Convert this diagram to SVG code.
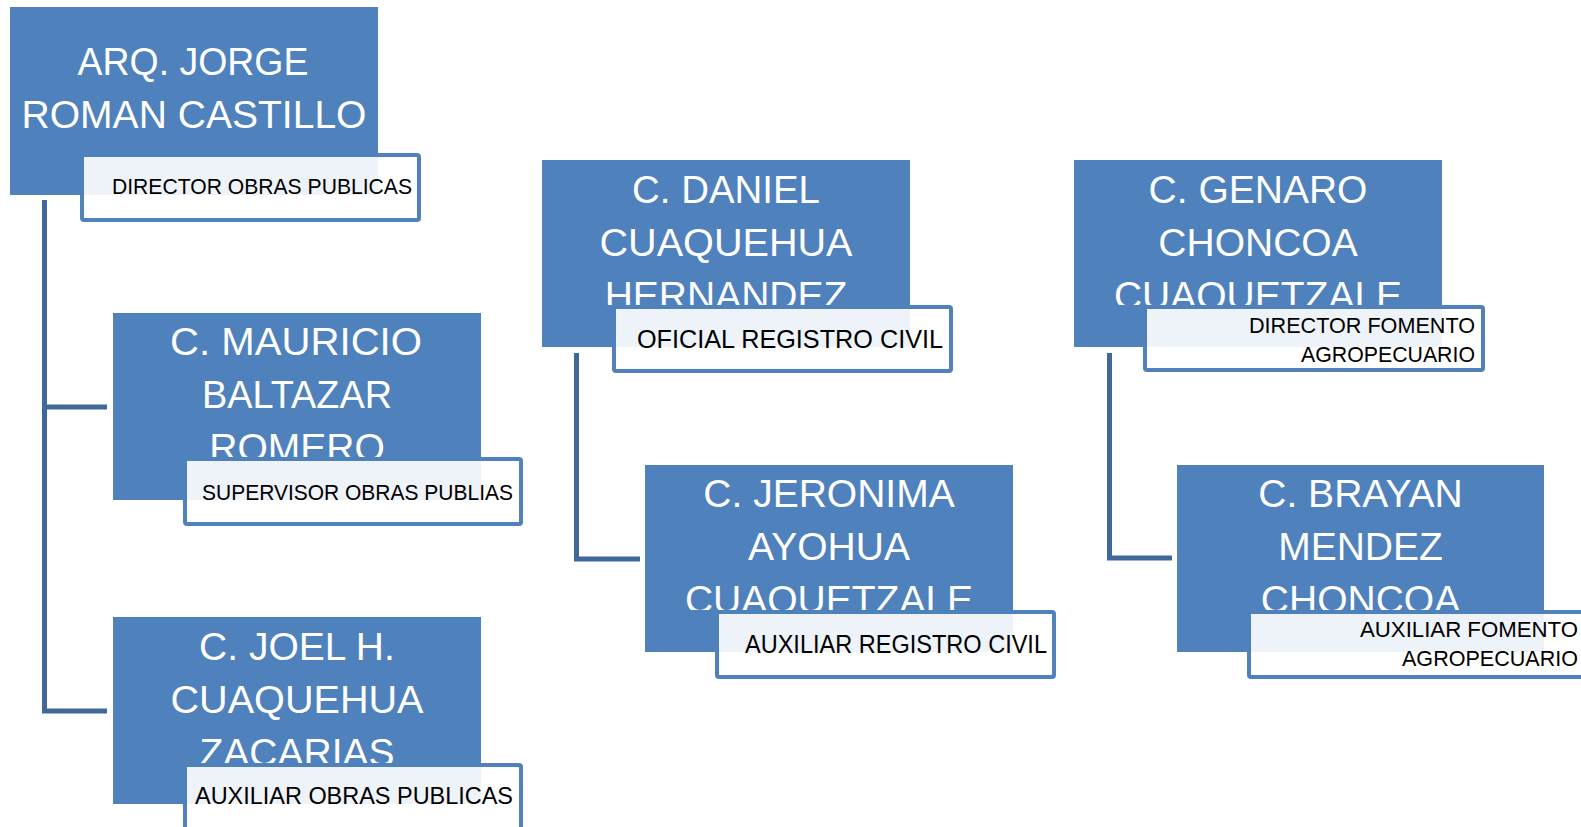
<svg xmlns="http://www.w3.org/2000/svg" width="1581" height="827" viewBox="0 0 1581 827">
<style>
.box{fill:#4F81BD}
.lbl{fill:#FFFFFF;fill-opacity:0.9;stroke:#4F81BD;stroke-width:4}
.name{font-family:"Liberation Sans",Arial,sans-serif;font-size:39px;fill:#FFFFFF;text-anchor:middle}
.role{font-family:"Liberation Sans",Arial,sans-serif;fill:#000000;text-anchor:end}
.conn{fill:none;stroke:#40689B;stroke-width:5}
</style>
<defs>
<clipPath id="c1"><rect x="10" y="7" width="368" height="146"/></clipPath>
<clipPath id="c2"><rect x="113" y="313" width="368" height="144"/></clipPath>
<clipPath id="c3"><rect x="113" y="617" width="368" height="146"/></clipPath>
<clipPath id="c4"><rect x="542" y="160" width="368" height="145"/></clipPath>
<clipPath id="c5"><rect x="1074" y="160" width="368" height="145"/></clipPath>
<clipPath id="c6"><rect x="645" y="465" width="368" height="145"/></clipPath>
<clipPath id="c7"><rect x="1177" y="465" width="368" height="145"/></clipPath>
</defs>
<rect width="1581" height="827" fill="#FFFFFF"/>
<g id="connectors">
<path class="conn" d="M44.5 200 V711 H107"/>
<path class="conn" d="M44.5 407 H107"/>
<path class="conn" d="M576.5 353 V559 H640"/>
<path class="conn" d="M1109.5 353 V558 H1172"/>
</g>
<g id="node-jorge">
<rect class="box" x="10" y="7" width="368" height="188"/>
<g clip-path="url(#c1)">
<text class="name" x="193" y="75" textLength="231" lengthAdjust="spacingAndGlyphs">ARQ. JORGE</text>
<text class="name" x="194" y="128" textLength="345" lengthAdjust="spacingAndGlyphs">ROMAN CASTILLO</text>
</g>
<rect class="lbl" x="82" y="155" width="337" height="65" rx="2"/>
<text class="role" x="412" y="194" font-size="22.5" textLength="300" lengthAdjust="spacingAndGlyphs">DIRECTOR OBRAS PUBLICAS</text>
</g>
<g id="node-mauricio">
<rect class="box" x="113" y="313" width="368" height="187"/>
<g clip-path="url(#c2)">
<text class="name" x="296" y="355" textLength="252" lengthAdjust="spacingAndGlyphs">C. MAURICIO</text>
<text class="name" x="297" y="408" textLength="190" lengthAdjust="spacingAndGlyphs">BALTAZAR</text>
<text class="name" x="297" y="461">ROMERO</text>
</g>
<rect class="lbl" x="185" y="459" width="336" height="65" rx="2"/>
<text class="role" x="513" y="500" font-size="21.5" textLength="311" lengthAdjust="spacingAndGlyphs">SUPERVISOR OBRAS PUBLIAS</text>
</g>
<g id="node-joel">
<rect class="box" x="113" y="617" width="368" height="187"/>
<g clip-path="url(#c3)">
<text class="name" x="297" y="660">C. JOEL H.</text>
<text class="name" x="297" y="713" textLength="253" lengthAdjust="spacingAndGlyphs">CUAQUEHUA</text>
<text class="name" x="297" y="766">ZACARIAS</text>
</g>
<rect class="lbl" x="185" y="765" width="336" height="65" rx="2"/>
<text class="role" x="513" y="804" font-size="24" textLength="318" lengthAdjust="spacingAndGlyphs">AUXILIAR OBRAS PUBLICAS</text>
</g>
<g id="node-daniel">
<rect class="box" x="542" y="160" width="368" height="187"/>
<g clip-path="url(#c4)">
<text class="name" x="726" y="203" textLength="188" lengthAdjust="spacingAndGlyphs">C. DANIEL</text>
<text class="name" x="726" y="256" textLength="253" lengthAdjust="spacingAndGlyphs">CUAQUEHUA</text>
<text class="name" x="726" y="309">HERNANDEZ</text>
</g>
<rect class="lbl" x="614" y="307" width="337" height="64" rx="2"/>
<text class="role" x="943" y="348" font-size="26.5" textLength="306" lengthAdjust="spacingAndGlyphs">OFICIAL REGISTRO CIVIL</text>
</g>
<g id="node-genaro">
<rect class="box" x="1074" y="160" width="368" height="187"/>
<g clip-path="url(#c5)">
<text class="name" x="1258" y="203">C. GENARO</text>
<text class="name" x="1258" y="256">CHONCOA</text>
<text class="name" x="1258" y="309">CUAQUETZALE</text>
</g>
<rect class="lbl" x="1145" y="307" width="338" height="63" rx="2"/>
<text class="role" x="1475" y="333" font-size="21.5" textLength="226" lengthAdjust="spacingAndGlyphs">DIRECTOR FOMENTO</text>
<text class="role" x="1475" y="362" font-size="21.5" textLength="174" lengthAdjust="spacingAndGlyphs">AGROPECUARIO</text>
</g>
<g id="node-jeronima">
<rect class="box" x="645" y="465" width="368" height="187"/>
<g clip-path="url(#c6)">
<text class="name" x="829" y="507">C. JERONIMA</text>
<text class="name" x="829" y="560">AYOHUA</text>
<text class="name" x="829" y="613">CUAQUETZALE</text>
</g>
<rect class="lbl" x="717" y="612" width="337" height="65" rx="2"/>
<text class="role" x="1047" y="653" font-size="25" textLength="302" lengthAdjust="spacingAndGlyphs">AUXILIAR REGISTRO CIVIL</text>
</g>
<g id="node-brayan">
<rect class="box" x="1177" y="465" width="367" height="187"/>
<g clip-path="url(#c7)">
<text class="name" x="1360.5" y="507">C. BRAYAN</text>
<text class="name" x="1360.5" y="560">MENDEZ</text>
<text class="name" x="1360.5" y="613">CHONCOA</text>
</g>
<rect class="lbl" x="1249" y="612" width="337" height="65" rx="2"/>
<text class="role" x="1578" y="637" font-size="21.5" textLength="218" lengthAdjust="spacingAndGlyphs">AUXILIAR FOMENTO</text>
<text class="role" x="1578" y="666" font-size="21.5" textLength="176" lengthAdjust="spacingAndGlyphs">AGROPECUARIO</text>
</g>
</svg>
